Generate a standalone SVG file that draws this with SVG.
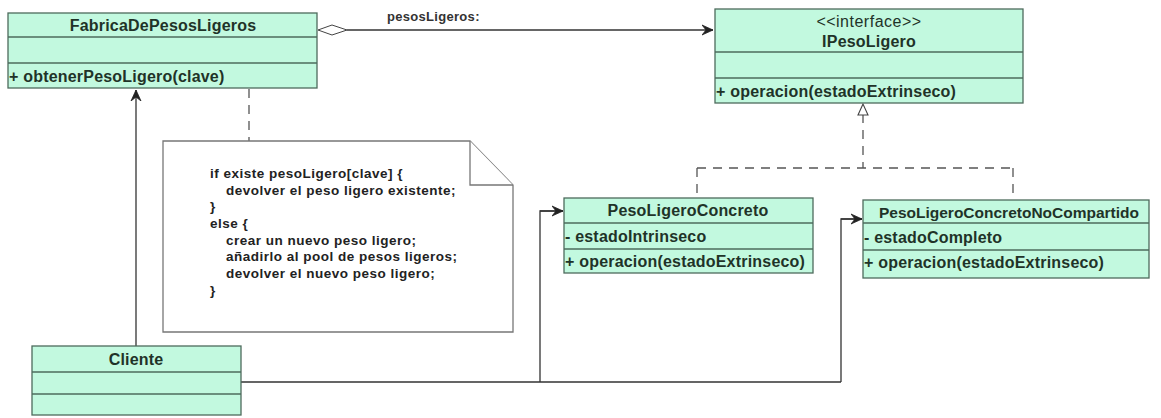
<svg xmlns="http://www.w3.org/2000/svg" width="1161" height="418" viewBox="0 0 1161 418">
<defs>
<style>
.box{fill:#c2f9df;stroke:#4d6b5c;stroke-width:1.3}
.div{stroke:#4d6b5c;stroke-width:1.3}
.t{font-family:"Liberation Sans",Arial,sans-serif;font-size:16px;letter-spacing:0.2px;fill:#1f3328}
.b{font-weight:bold}
.c{text-anchor:middle}
.line{fill:none;stroke:#333;stroke-width:1.3}
.dash{fill:none;stroke:#555;stroke-width:1.3;stroke-dasharray:9,7}
.note{fill:#fff;stroke:#777;stroke-width:1.3}
.nt{font-family:"Liberation Sans",Arial,sans-serif;font-size:13.5px;letter-spacing:0.5px;font-weight:bold;fill:#222}
</style>
<marker id="open" viewBox="0 0 12 12" refX="11" refY="6" markerWidth="12" markerHeight="12" markerUnits="userSpaceOnUse" orient="auto">
<path d="M0,1 L11,6 L0,11 L4,6 Z" fill="#222" stroke="#222" stroke-width="0.8"/>
</marker>
</defs>

<g id="connectors">
<path class="line" d="M347,30 L713,30" marker-end="url(#open)"/>
<path d="M318,30 L332,25 L347,30 L332,35 Z" fill="#fff" stroke="#444" stroke-width="1"/>
<text class="t b" x="387" y="21" style="font-size:13px;letter-spacing:0.3px;fill:#333">pesosLigeros:</text>
<path class="line" d="M136,346 L136,90" marker-end="url(#open)"/>
<path class="dash" d="M249,89 L249,141"/>
<path class="dash" d="M863,114 L863,168 M697,168 L1013,168 M697,168 L697,198 M1013,168 L1013,200"/>
<path d="M863,104 L858,115 L868,115 Z" fill="#fff" stroke="#444" stroke-width="1.1"/>
<path class="line" d="M241,382 L841,382 M540,382 L540,211 L563,211 M841,382 L841,219 L862,219"/>
<path class="line" d="M540,211 L563,211" marker-end="url(#open)"/>
<path class="line" d="M841,219 L862,219" marker-end="url(#open)"/>
</g>

<g id="FabricaDePesosLigeros">
<rect class="box" x="8" y="13" width="309" height="75"/>
<line class="div" x1="8" y1="37" x2="317" y2="37"/>
<line class="div" x1="8" y1="63" x2="317" y2="63"/>
<text class="t b c" x="163" y="31">FabricaDePesosLigeros</text>
<text class="t b" x="9" y="82">+ obtenerPesoLigero(clave)</text>
</g>

<g id="IPesoLigero">
<rect class="box" x="715" y="9" width="308" height="94"/>
<line class="div" x1="715" y1="52" x2="1023" y2="52"/>
<line class="div" x1="715" y1="78" x2="1023" y2="78"/>
<text class="t c" x="869" y="27" style="letter-spacing:0.5px">&lt;&lt;interface&gt;&gt;</text>
<text class="t b c" x="869" y="47">IPesoLigero</text>
<text class="t b" x="716" y="97">+ operacion(estadoExtrinseco)</text>
</g>

<g id="Nota">
<path class="note" d="M163,141 L470,141 L513,185 L513,332 L163,332 Z"/>
<path class="note" d="M470,141 L470,185 L513,185" fill="none"/>
<text class="nt" x="210" y="178">if existe pesoLigero[clave] {</text>
<text class="nt" x="226" y="195">devolver el peso ligero existente;</text>
<text class="nt" x="210" y="211">}</text>
<text class="nt" x="210" y="228">else {</text>
<text class="nt" x="226" y="245">crear un nuevo peso ligero;</text>
<text class="nt" x="226" y="261">añadirlo al pool de pesos ligeros;</text>
<text class="nt" x="226" y="278">devolver el nuevo peso ligero;</text>
<text class="nt" x="210" y="295">}</text>
</g>

<g id="PesoLigeroConcreto">
<rect class="box" x="564" y="198" width="249" height="75"/>
<line class="div" x1="564" y1="223" x2="813" y2="223"/>
<line class="div" x1="564" y1="249" x2="813" y2="249"/>
<text class="t b c" x="688" y="216">PesoLigeroConcreto</text>
<text class="t b" x="565" y="242">- estadoIntrinseco</text>
<text class="t b" x="565" y="267">+ operacion(estadoExtrinseco)</text>
</g>

<g id="PesoLigeroConcretoNoCompartido">
<rect class="box" x="863" y="200" width="286" height="78"/>
<line class="div" x1="863" y1="223" x2="1149" y2="223"/>
<line class="div" x1="863" y1="250" x2="1149" y2="250"/>
<text class="t b c" x="1009" y="218" style="letter-spacing:0px;font-size:15.5px">PesoLigeroConcretoNoCompartido</text>
<text class="t b" x="864" y="243">- estadoCompleto</text>
<text class="t b" x="864" y="268">+ operacion(estadoExtrinseco)</text>
</g>

<g id="Cliente">
<rect class="box" x="32" y="346" width="209" height="69"/>
<line class="div" x1="32" y1="372" x2="241" y2="372"/>
<line class="div" x1="32" y1="394" x2="241" y2="394"/>
<text class="t b c" x="136" y="365">Cliente</text>
</g>
</svg>
